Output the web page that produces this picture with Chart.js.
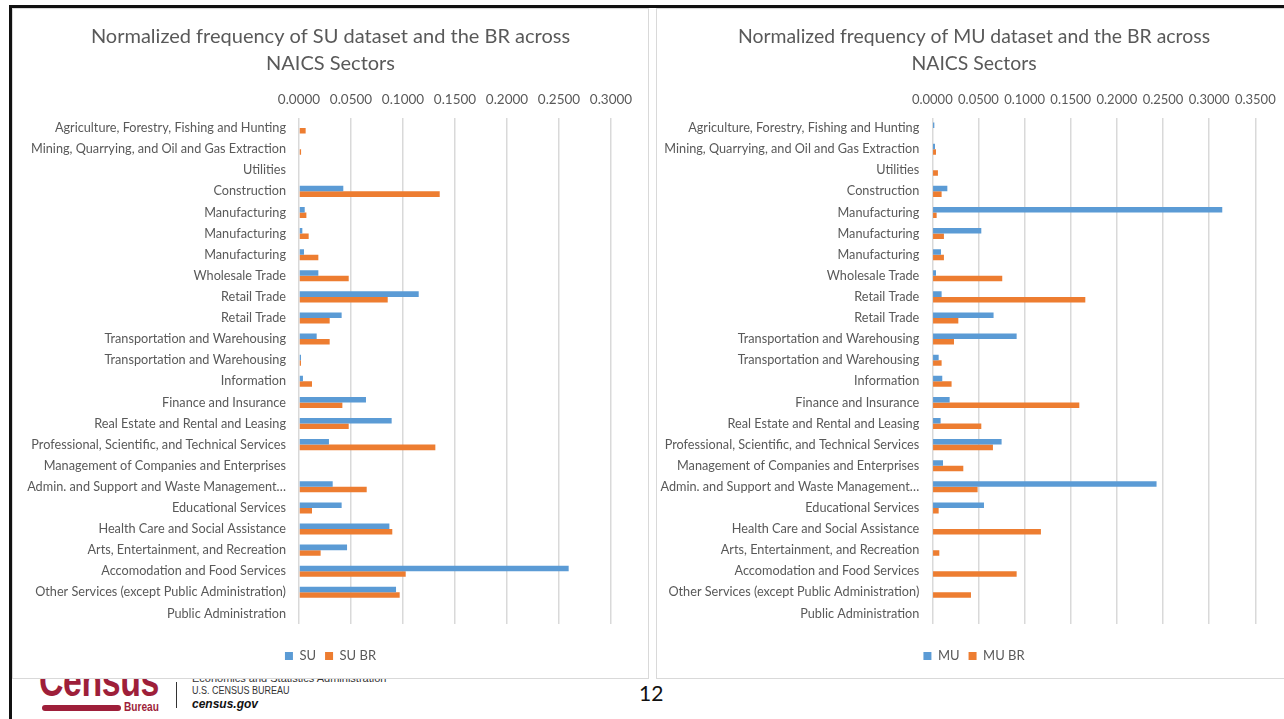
<!DOCTYPE html>
<html>
<head>
<meta charset="utf-8">
<script src="https://cdn.jsdelivr.net/npm/chart.js@4.4.1/dist/chart.umd.min.js"></script>
<style>
  html, body { margin: 0; padding: 0; background: #fff; }
  body { width: 1284px; height: 719px; overflow: hidden; position: relative; font-family: Lato, "Open Sans", sans-serif; }
  .frame { position: absolute; left: 9px; top: 5px; width: 1290px; height: 720px; border-top: 3px solid #111; border-left: 3px solid #111; }
  .panel { position: absolute; top: 8px; height: 669px; border: 1px solid #d9d9d9; background: #fff; z-index: 2; overflow: hidden; }
  .panel canvas { position: absolute; left: 0; top: 0; }
  #p1 { left: 12px; width: 635px; }
  #p2 { left: 656px; width: 640px; }
  .logo { position: absolute; z-index: 1; }
  .census { left: 39px; top: 659px; font: bold 44px "Liberation Sans", Arial, sans-serif; color: #9e1f3a; transform: scaleX(0.77); transform-origin: left top; letter-spacing: -0.5px; line-height: 44px; }
  .bar { left: 42px; top: 705px; width: 79px; height: 6px; border-radius: 3px; background: #9e1f3a; }
  .bureau { left: 124px; top: 699px; font: bold 13px "Liberation Sans", Arial, sans-serif; color: #9e1f3a; transform: scaleX(0.78); transform-origin: left top; }
  .divider { left: 176px; top: 682px; width: 1px; height: 26px; background: #333; }
  .esa { left: 192px; top: 672px; font: 11px "Liberation Sans", Arial, sans-serif; color: #333; }
  .usc { left: 192px; top: 685px; font: 10px "Liberation Sans", Arial, sans-serif; color: #333; transform: scaleX(0.9); transform-origin: left top; }
  .gov { left: 192px; top: 697px; font: italic bold 12px "Liberation Sans", Arial, sans-serif; color: #111; }
  .page { position: absolute; left: 639px; top: 680px; font: 21px Lato, "Open Sans", sans-serif; color: #111; z-index: 1; }
</style>
</head>
<body>
<div class="frame"></div>
<div class="logo census">Census</div>
<div class="logo bar"></div>
<div class="logo bureau">Bureau</div>
<div class="logo divider"></div>
<div class="logo esa">Economics and Statistics Administration</div>
<div class="logo usc">U.S. CENSUS BUREAU</div>
<div class="logo gov">census.gov</div>
<div class="page">12</div>

<div class="panel" id="p1"><canvas id="suChart" width="635" height="669"></canvas></div>
<div class="panel" id="p2"><canvas id="muChart" width="634" height="669"></canvas></div>

<script>
// NAICS sectors, top to bottom
const sectors = [
  "Agriculture, Forestry, Fishing and Hunting",
  "Mining, Quarrying, and Oil and Gas Extraction",
  "Utilities",
  "Construction",
  "Manufacturing",
  "Manufacturing",
  "Manufacturing",
  "Wholesale Trade",
  "Retail Trade",
  "Retail Trade",
  "Transportation and Warehousing",
  "Transportation and Warehousing",
  "Information",
  "Finance and Insurance",
  "Real Estate and Rental and Leasing",
  "Professional, Scientific, and Technical Services",
  "Management of Companies and Enterprises",
  "Admin. and Support and Waste Management\u2026",
  "Educational Services",
  "Health Care and Social Assistance",
  "Arts, Entertainment, and Recreation",
  "Accomodation and Food Services",
  "Other Services (except Public Administration)",
  "Public Administration"
];

// Normalized frequencies, single-unit dataset
const suValues   = [0, 0, 0, 0.0426, 0.0055, 0.0032, 0.0048, 0.0186, 0.1151, 0.0410, 0.0170, 0.0019,
                    0.0038, 0.0644, 0.0891, 0.0288, 0, 0.0324, 0.0410, 0.0869, 0.0462, 0.2593, 0.0933, 0];
const suBrValues = [0.0064, 0.0020, 0, 0.1353, 0.0071, 0.0093, 0.0186, 0.0478, 0.0853, 0.0295, 0.0295, 0.0019,
                    0.0125, 0.0417, 0.0478, 0.1311, 0, 0.0651, 0.0125, 0.0897, 0.0208, 0.1026, 0.0968, 0];

// Normalized frequencies, multi-unit dataset
const muValues   = [0.0022, 0.0029, 0, 0.0163, 0.3142, 0.0531, 0.0094, 0.0040, 0.0101, 0.0664, 0.0914, 0.0069,
                    0.0108, 0.0188, 0.0090, 0.0751, 0.0116, 0.2430, 0.0560, 0, 0, 0, 0, 0];
const muBrValues = [0, 0.0040, 0.0061, 0.0101, 0.0047, 0.0126, 0.0126, 0.0758, 0.1658, 0.0282, 0.0235, 0.0101,
                    0.0209, 0.1593, 0.0531, 0.0657, 0.0336, 0.0491, 0.0069, 0.1177, 0.0076, 0.0914, 0.0419, 0];

// Axis tick ranges
const suAxisMax = 0.3;
const muAxisMax = 0.35;
const axisStep = 0.05;

const BLUE = "#5b9bd5";
const ORANGE = "#ed7d31";
const TEXT = "#595959";
const FONT = "Lato, 'Open Sans', sans-serif";

function buildChart(canvasId, titleLines, seriesNames, seriesA, seriesB, axisMax, yWidth, rightGap, titleSize, tickSize) {
  return new Chart(document.getElementById(canvasId), {
    type: "bar",
    data: {
      labels: sectors,
      datasets: [
        { label: seriesNames[0], data: seriesA, backgroundColor: BLUE, borderWidth: 0 },
        { label: seriesNames[1], data: seriesB, backgroundColor: ORANGE, borderWidth: 0 }
      ]
    },
    options: {
      indexAxis: "y",
      responsive: false,
      animation: false,
      categoryPercentage: 0.524,
      barPercentage: 1.0,
      layout: { padding: { left: 0, right: 0, top: 0, bottom: 5.5 } },
      plugins: {
        tooltip: { enabled: false },
        title: {
          display: true,
          text: titleLines,
          color: TEXT,
          font: { family: FONT, size: titleSize, weight: "normal", lineHeight: 27 / titleSize },
          padding: { top: 14.5, bottom: 0 }
        },
        legend: {
          position: "bottom",
          labels: {
            color: TEXT,
            font: { family: FONT, size: 13 },
            boxWidth: 8,
            boxHeight: 8,
            padding: 9
          }
        }
      },
      scales: {
        x: {
          position: "top",
          min: 0,
          max: axisMax,
          ticks: {
            stepSize: axisStep,
            color: TEXT,
            font: { family: FONT, size: tickSize },
            padding: 10,
            maxRotation: 0,
            minRotation: 0,
            autoSkip: false,
            callback: v => Number(v).toFixed(4)
          },
          grid: { color: "#d9d9d9", lineWidth: 1.5, drawTicks: false },
          border: { display: false },
          afterFit: s => { s.height = 40; }
        },
        // spacer between plot area and legend
        xb: {
          type: "linear",
          position: "bottom",
          display: true,
          ticks: { display: false },
          grid: { display: false, drawTicks: false },
          border: { display: false },
          afterFit: s => { s.height = 16.5; }
        },
        y: {
          ticks: {
            color: TEXT,
            font: { family: FONT, size: 12.7 },
            padding: 13,
            autoSkip: false
          },
          grid: { display: false, drawTicks: false },
          border: { display: false },
          afterFit: s => { s.width = yWidth; }
        },
        // right-hand margin beside the plot area
        yr: {
          type: "linear",
          position: "right",
          axis: "y",
          display: true,
          ticks: { display: false },
          grid: { display: false, drawTicks: false },
          border: { display: false },
          afterFit: s => { s.width = rightGap; }
        }
      }
    }
  });
}

buildChart("suChart",
  ["Normalized frequency of SU dataset and the BR across", "NAICS Sectors"],
  ["SU", "SU BR"], suValues, suBrValues, suAxisMax, 286, 37, 20, 13.5);

buildChart("muChart",
  ["Normalized frequency of MU dataset and the BR across", "NAICS Sectors"],
  ["MU", "MU BR"], muValues, muBrValues, muAxisMax, 275.3, 35.7, 19.4, 13);
</script>
</body>
</html>
